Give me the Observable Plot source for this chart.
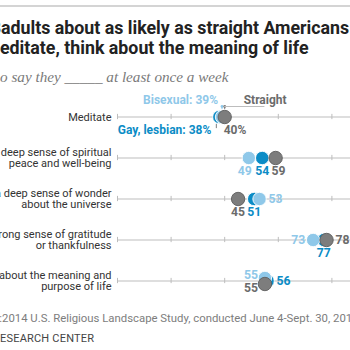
<!DOCTYPE html>
<html>
<head>
<meta charset="utf-8">
<script src="https://cdn.jsdelivr.net/npm/d3@7"></script>
<script src="https://cdn.jsdelivr.net/npm/@observablehq/plot@0.6"></script>
<style>
  html, body { margin: 0; padding: 0; background: #fff; }
  body { width: 350px; height: 350px; overflow: hidden; position: relative; font-family: Roboto, sans-serif; }
  .abs { position: absolute; white-space: nowrap; }
  .pre { position: absolute; right: 100%; }
  #rule { left: 0; top: 5px; width: 350px; height: 2px; background: #d4d4d4; }
  .title { font-weight: bold; font-size: 17.8px; line-height: 20px; color: #222; }
  #sub { font-family: "Liberation Serif", serif; font-style: italic; font-size: 15.2px; color: #7a7a7a; }
  #src { font-size: 11.35px; color: #7d7d7d; }
  #pew { font-size: 11px; color: #444; letter-spacing: 0.2px; }
  #chart { position: absolute; left: 0; top: 90px; }
</style>
</head>
<body>
<div id="rule" class="abs"></div>
<div class="abs title" style="left:1px;top:18px;"><span class="pre">LGB </span>adults about as likely as straight Americans</div>
<div class="abs title" style="left:0px;top:38px;"><span class="pre">to m</span>editate, think about the meaning of life</div>
<div id="sub" class="abs" style="left:0px;top:68px;"><span class="pre">% wh</span>o say they _____ at least once a week</div>
<div id="chart"></div>
<div id="src" class="abs" style="left:2px;top:311px;"><span class="pre">Source: </span>2014 U.S. Religious Landscape Study, conducted June 4-Sept. 30, 2014.</div>
<div id="pew" class="abs" style="left:0px;top:332px;"><span class="pre">PEW R</span>ESEARCH CENTER</div>
<script>
// ---- data ----
const activities = [
  "Meditate",
  "Feel a deep sense of spiritual\npeace and well-being",
  "Feel a deep sense of wonder\nabout the universe",
  "Feel a strong sense of gratitude\nor thankfulness",
  "Think about the meaning and\npurpose of life"
];
const gayLesbian = [38, 54, 51, 77, 56];
const bisexual   = [39, 49, 53, 73, 55];
const straight   = [40, 59, 45, 78, 55];
const xTicks = [0, 20, 40, 60, 80, 100];
const groupNames = ["Gay, lesbian", "Bisexual", "Straight"];

// ---- styling / layout (code, not data) ----
const colBlue = "#0b8cc6", colLight = "#8fc8e9", colGray = "#7d7d7d";
const txtGray = "#6b6b6b";
const band = 41.75;
const fills = {"Gay, lesbian": colBlue, "Bisexual": colLight, "Straight": colGray};
const strokes = {"Gay, lesbian": "#ffffff", "Bisexual": "#ffffff", "Straight": "#5e5e5e"};
const textFills = {"Gay, lesbian": colBlue, "Bisexual": colLight, "Straight": txtGray};

const rows = [];
activities.forEach((a, i) => {
  rows.push({activity: a, i, group: "Gay, lesbian", value: gayLesbian[i]});
  rows.push({activity: a, i, group: "Bisexual", value: bisexual[i]});
  rows.push({activity: a, i, group: "Straight", value: straight[i]});
});
const tie = (i) => bisexual[i] === straight[i];

const tickRows = activities.flatMap(a => xTicks.map(t => ({activity: a, t})));

// label placement per row (row 0 is annotated separately)
const placement = {
  1: {"Bisexual": "belowL", "Gay, lesbian": "below", "Straight": "belowR"},
  2: {"Straight": "below", "Gay, lesbian": "below", "Bisexual": "right"},
  3: {"Bisexual": "left", "Gay, lesbian": "below", "Straight": "right"},
  4: {"Bisexual": "upleft", "Straight": "downleft", "Gay, lesbian": "right"}
};
const placeOpts = {
  below:    {dx: 0,  dy: 13.5, textAnchor: "middle"},
  belowL:   {dx: -4, dy: 13.5, textAnchor: "middle"},
  belowR:   {dx: 3,  dy: 13.5, textAnchor: "middle"},
  right:    {dx: 9,  dy: 0,    textAnchor: "start"},
  left:     {dx: -8, dy: 0,    textAnchor: "end"},
  upleft:   {dx: -7, dy: -5.5, textAnchor: "end"},
  downleft: {dx: -7, dy: 7,    textAnchor: "end"}
};
const labelMarks = Object.keys(placeOpts).map(p =>
  Plot.text(rows.filter(d => d.i > 0 && placement[d.i][d.group] === p), {
    x: "value", y: "activity", text: d => String(d.value),
    fill: d => textFills[d.group], fontWeight: "bold", fontSize: 12.2,
    ...placeOpts[p]
  })
);

const dotOpts = (extra) => ({x: "value", y: "activity", r: 6.7,
  fill: d => fills[d.group], stroke: d => strokes[d.group], strokeWidth: 0.9, ...extra});
const groupRows = (g) => rows.filter(d => d.group === g);

const m0 = activities[0];
const chart = Plot.plot({
  width: 350,
  height: 215,
  style: {fontFamily: "Roboto, sans-serif", overflow: "hidden"},
  x: {domain: [0, 100], range: [117, 385], axis: null},
  y: {domain: activities, range: [4.125, 212.875], padding: 0, axis: null},
  marks: [
    Plot.ruleY(activities, {y: d => d, x1: 0, x2: 100, stroke: "#bdbdbd", strokeWidth: 1}),
    Plot.tickX(tickRows, {x: "t", y: "activity", stroke: "#bdbdbd", insetTop: band / 2 - 3, insetBottom: band / 2 - 3}),
    Plot.text(activities, {x: 0, y: d => d, text: d => d, textAnchor: "end", dx: -6,
      fontSize: 11, fill: "#333", lineHeight: 1.05}),
    // dots: blue, then light blue, then gray on top
    Plot.dot(groupRows("Gay, lesbian"), dotOpts({})),
    Plot.dot(groupRows("Bisexual").filter(d => !tie(d.i)), dotOpts({})),
    Plot.dot(groupRows("Bisexual").filter(d => tie(d.i)), dotOpts({dy: -3})),
    Plot.dot(groupRows("Straight").filter(d => !tie(d.i)), dotOpts({})),
    Plot.dot(groupRows("Straight").filter(d => tie(d.i)), dotOpts({dy: 3})),
    ...labelMarks,
    // Meditate annotations
    Plot.tickX([bisexual[0]], {x: d => d, y: () => m0, stroke: colLight, insetTop: band / 2 - 11, insetBottom: band / 2 + 7}),
    Plot.tickX([straight[0]], {x: d => d, y: () => m0, stroke: colGray, insetTop: band / 2 - 11, insetBottom: band / 2 + 7}),
    Plot.dot([bisexual[0]], {x: d => d, y: () => m0, dy: -10.5, r: 1.4, fill: colLight}),
    Plot.dot([straight[0]], {x: d => d, y: () => m0, dy: -10.5, r: 1.4, fill: colGray}),
    Plot.ruleY([m0], {y: d => d, x1: straight[0], x2: straight[0] + 15, dy: -10.5, stroke: "#bdbdbd"}),
    Plot.tickX([gayLesbian[0]], {x: d => d, y: () => m0, dx: -3, stroke: colGray, insetTop: band / 2 + 7, insetBottom: band / 2 - 12}),
    Plot.text([bisexual[0]], {x: d => d, y: () => m0, text: d => `${groupNames[1]}: ${d}%`, dx: -4, dy: -17,
      textAnchor: "end", fill: colLight, fontWeight: "bold", fontSize: 12}),
    Plot.text([straight[0]], {x: d => d, y: () => m0, text: () => groupNames[2], dx: 19, dy: -17,
      textAnchor: "start", fill: txtGray, fontWeight: "bold", fontSize: 12}),
    Plot.text([gayLesbian[0]], {x: d => d, y: () => m0, text: d => `${groupNames[0]}: ${d}%`, dx: -8, dy: 13,
      textAnchor: "end", fill: colBlue, fontWeight: "bold", fontSize: 12}),
    Plot.text([straight[0]], {x: d => d, y: () => m0, text: d => `${d}%`, dx: -1, dy: 13,
      textAnchor: "start", fill: txtGray, fontWeight: "bold", fontSize: 12})
  ]
});
document.getElementById("chart").appendChild(chart);
</script>
</body>
</html>
